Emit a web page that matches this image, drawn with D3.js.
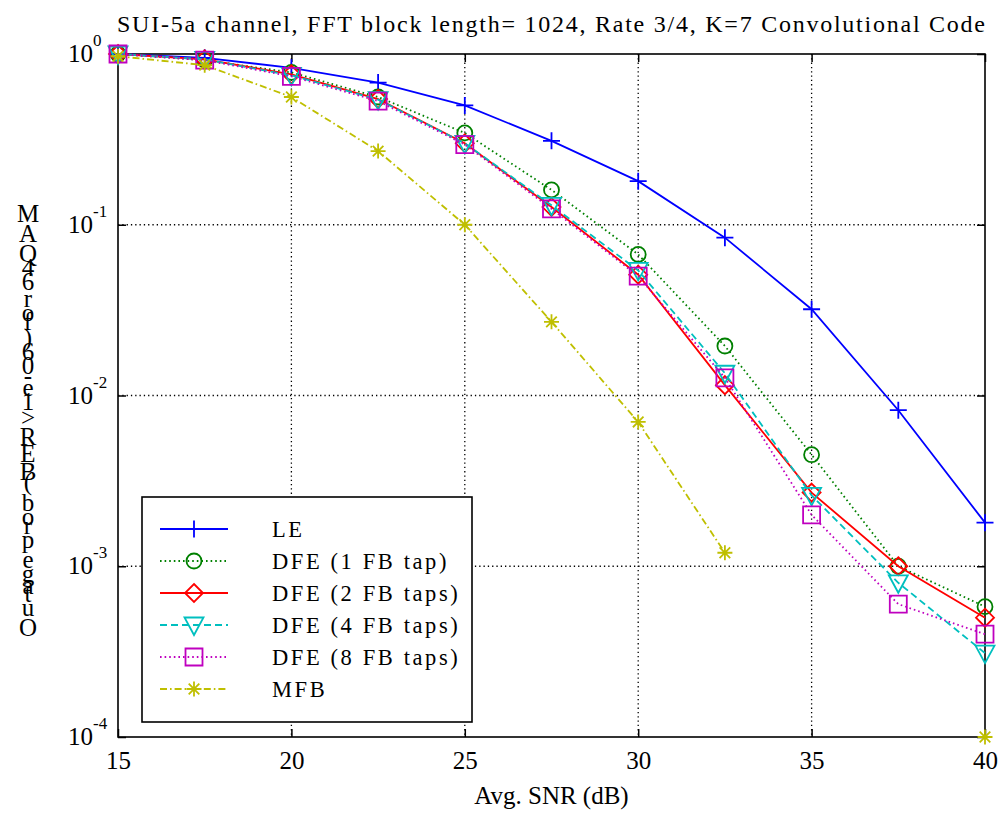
<!DOCTYPE html>
<html>
<head>
<meta charset="utf-8">
<script src="https://cdn.jsdelivr.net/npm/d3@7"></script>
<style>
  body { margin: 0; background: #fff; }
  svg { display: block; font-family: "Liberation Serif", "Times New Roman", serif; }
</style>
</head>
<body>
<div id="chart"></div>
<script>
// ---- data ----
const snr = [15, 17.5, 20, 22.5, 25, 27.5, 30, 32.5, 35, 37.5, 40];
const le   = [1.0, 0.95, 0.83, 0.68, 0.50, 0.31, 0.18, 0.084, 0.032, 0.0082, 0.0018];
const dfe1 = [1.0, 0.92, 0.78, 0.56, 0.345, 0.16, 0.067, 0.0195, 0.0045, 0.001, 0.00058];
const dfe2 = [1.0, 0.93, 0.76, 0.545, 0.30, 0.127, 0.051, 0.0115, 0.0027, 0.001, 0.0005];
const dfe4 = [1.0, 0.93, 0.75, 0.54, 0.30, 0.13, 0.054, 0.0135, 0.0026, 0.0008, 0.00031];
const dfe8 = [1.0, 0.92, 0.74, 0.53, 0.295, 0.124, 0.05, 0.0127, 0.002, 0.0006, 0.0004];
const mfb  = [0.97, 0.86, 0.56, 0.27, 0.10, 0.027, 0.007, 0.0012, null, null, 0.0001];

const seriesNames = ["LE", "DFE (1 FB tap)", "DFE (2 FB taps)", "DFE (4 FB taps)", "DFE (8 FB taps)", "MFB"];
const xTicks = [15, 20, 25, 30, 35, 40];
const yTickExp = [0, -1, -2, -3, -4];
const titleText = "SUI-5a channel, FFT block length= 1024, Rate 3/4, K=7 Convolutional Code";
const xLabelText = "Avg. SNR (dB)";
const yLabelText = "Outage prob (BER>1e-06) for 64QAM";

const series = [
  { name: seriesNames[0], values: le,   color: "#0000ff", dash: null,        marker: "plus" },
  { name: seriesNames[1], values: dfe1, color: "#008000", dash: "1.6,3",     marker: "circle" },
  { name: seriesNames[2], values: dfe2, color: "#ff0000", dash: null,        marker: "diamond" },
  { name: seriesNames[3], values: dfe4, color: "#00bfbf", dash: "7,4",       marker: "triangle" },
  { name: seriesNames[4], values: dfe8, color: "#bf00bf", dash: "1.6,3",     marker: "square" },
  { name: seriesNames[5], values: mfb,  color: "#bfbf00", dash: "7,3,1.6,3", marker: "star" }
];

const width = 1003, height = 817;
const margin = { top: 54, right: 18, bottom: 80, left: 118 };
const plotW = width - margin.left - margin.right;
const plotH = height - margin.top - margin.bottom;

const svg = d3.select("#chart").append("svg")
  .attr("width", width)
  .attr("height", height);

const x = d3.scaleLinear().domain([15, 40]).range([margin.left, margin.left + plotW]);
const y = d3.scaleLog().domain([1e-4, 1]).range([margin.top + plotH, margin.top]);

// ---- grid ----
const grid = svg.append("g").attr("stroke", "#000").attr("stroke-width", 1.3)
  .attr("stroke-dasharray", "1.3,3");
grid.selectAll(".vg").data(xTicks.slice(1, -1)).enter().append("line")
  .attr("x1", d => x(d)).attr("x2", d => x(d))
  .attr("y1", margin.top).attr("y2", margin.top + plotH);
grid.selectAll(".hg").data(yTickExp.slice(1, -1)).enter().append("line")
  .attr("y1", d => y(Math.pow(10, d))).attr("y2", d => y(Math.pow(10, d)))
  .attr("x1", margin.left).attr("x2", margin.left + plotW);

// ---- axes (ticks inward on all four sides) ----
const axisBottom = svg.append("g")
  .attr("transform", `translate(0,${margin.top + plotH})`)
  .call(d3.axisBottom(x).tickValues(xTicks).tickSize(-8).tickPadding(14).tickFormat(d3.format("d")));
const axisTop = svg.append("g")
  .attr("transform", `translate(0,${margin.top})`)
  .call(d3.axisTop(x).tickValues(xTicks).tickSize(-8).tickFormat(""));
const yVals = yTickExp.map(e => Math.pow(10, e));
const axisLeft = svg.append("g")
  .attr("transform", `translate(${margin.left},0)`)
  .call(d3.axisLeft(y).tickValues(yVals).tickSize(-8).tickFormat(""));
const axisRight = svg.append("g")
  .attr("transform", `translate(${margin.left + plotW},0)`)
  .call(d3.axisRight(y).tickValues(yVals).tickSize(-8).tickFormat(""));

[axisBottom, axisTop, axisLeft, axisRight].forEach(g => {
  g.select(".domain").remove();
  g.selectAll(".tick line").attr("stroke", "#000").attr("stroke-width", 1.5);
});
axisBottom.selectAll("text")
  .attr("font-size", 25)
  .attr("fill", "#000")
  .attr("font-family", "Liberation Serif, Times New Roman, serif");

// y tick labels as 10^n
const yLab = svg.append("g").attr("font-size", 25).attr("fill", "#000");
yTickExp.forEach(e => {
  const t = yLab.append("text")
    .attr("x", 68)
    .attr("y", y(Math.pow(10, e)) + 8);
  t.append("tspan").text("10");
  t.append("tspan").attr("font-size", 17).attr("dy", -16).text(String(e));
});

// box
svg.append("rect")
  .attr("x", margin.left).attr("y", margin.top)
  .attr("width", plotW).attr("height", plotH)
  .attr("fill", "none").attr("stroke", "#000").attr("stroke-width", 1.6);

// ---- markers ----
function markerPath(type) {
  switch (type) {
    case "plus": return "M-8.5,0H8.5M0,-8.5V8.5";
    case "circle": return "M7.5,0A7.5,7.5 0 1,1 -7.5,0A7.5,7.5 0 1,1 7.5,0Z";
    case "diamond": return "M0,-9L9,0L0,9L-9,0Z";
    case "triangle": return "M-9.5,-7.5L9.5,-7.5L0,10Z";
    case "square": return "M-8.5,-8.5H8.5V8.5H-8.5Z";
    case "star": return "M-7.5,0H7.5M0,-7.5V7.5M-5.3,-5.3L5.3,5.3M-5.3,5.3L5.3,-5.3";
  }
}

// ---- lines ----
const line = d3.line()
  .defined(d => d[1] != null)
  .x(d => x(d[0]))
  .y(d => y(d[1]));

const plot = svg.append("g");
series.forEach(s => {
  const pts = snr.map((v, i) => [v, s.values[i]]);
  plot.append("path")
    .attr("d", line(pts))
    .attr("fill", "none")
    .attr("stroke", s.color)
    .attr("stroke-width", 1.8)
    .attr("stroke-dasharray", s.dash);
  plot.selectAll(null).data(pts.filter(d => d[1] != null)).enter().append("path")
    .attr("transform", d => `translate(${x(d[0])},${y(d[1])})`)
    .attr("d", markerPath(s.marker))
    .attr("fill", "none")
    .attr("stroke", s.color)
    .attr("stroke-width", 1.8);
});

// ---- legend ----
const legend = svg.append("g").attr("transform", "translate(142,497)");
legend.append("rect")
  .attr("width", 330).attr("height", 225)
  .attr("fill", "#fff").attr("stroke", "#000").attr("stroke-width", 1.6);
const items = legend.selectAll(".item").data(series).enter().append("g")
  .attr("transform", (d, i) => `translate(0,${32 + i * 32})`);
items.append("line")
  .attr("x1", 18).attr("x2", 86)
  .attr("stroke", d => d.color).attr("stroke-width", 1.8)
  .attr("stroke-dasharray", d => d.dash);
items.append("path")
  .attr("transform", "translate(52,0)")
  .attr("d", d => markerPath(d.marker))
  .attr("fill", "none").attr("stroke", d => d.color).attr("stroke-width", 1.8);
items.append("text")
  .attr("x", 130).attr("y", 8)
  .attr("font-size", 22.5)
  .attr("letter-spacing", 2.6)
  .text(d => d.name);

// ---- title & axis labels ----
svg.append("text")
  .attr("x", 117).attr("y", 32)
  .attr("font-size", 24)
  .attr("textLength", 868)
  .attr("lengthAdjust", "spacing")
  .text(titleText);

svg.append("text")
  .attr("x", (margin.left + margin.left + plotW) / 2).attr("y", 804)
  .attr("text-anchor", "middle")
  .attr("font-size", 25)
  .text(xLabelText);

// y label: upright glyphs piled bottom-to-top, stepped by their advance width
const yl = svg.append("text").attr("font-size", 25).attr("text-anchor", "middle");
const chars = yLabelText.split("");
const tmp = svg.append("text").attr("font-size", 25);
const adv = chars.map(c => { tmp.text(c === " " ? "\u00a0" : c); return tmp.node().getComputedTextLength(); });
tmp.remove();
const pen = [];
adv.reduce((acc, a, i) => { pen[i] = acc; return acc + a; }, 0);
const yBase = 636, yTopBase = 222;
const k = (yBase - yTopBase) / pen[pen.length - 1];
chars.forEach((c, i) => {
  if (c === " ") return;
  yl.append("tspan").attr("x", 28).attr("y", yBase - pen[i] * k).text(c);
});
</script>
</body>
</html>
